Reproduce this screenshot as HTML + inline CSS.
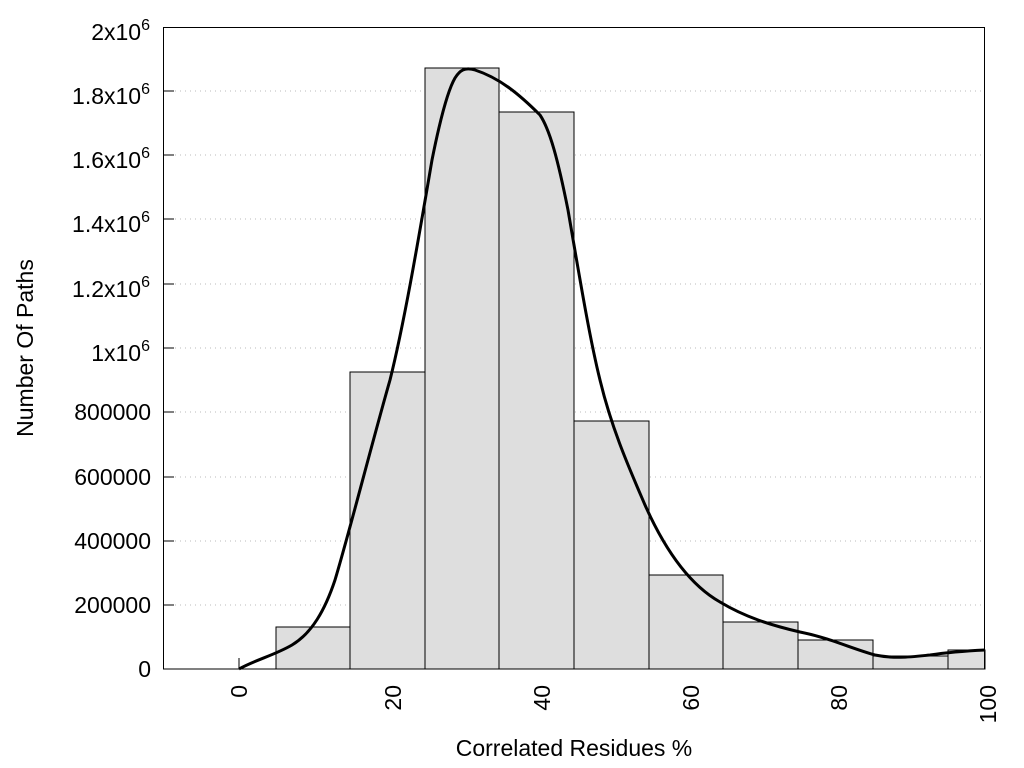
<!DOCTYPE html>
<html><head><meta charset="utf-8"><style>body{margin:0;background:#fff}svg{display:block}text{font-family:"Liberation Sans",sans-serif;font-size:23px;fill:#000}</style></head><body>
<svg width="1024" height="768" xmlns="http://www.w3.org/2000/svg">
<g stroke="#bbb" stroke-width="1" stroke-dasharray="1,4">
<line x1="175" y1="91" x2="985" y2="91"/><line x1="175" y1="155" x2="985" y2="155"/><line x1="175" y1="219" x2="985" y2="219"/><line x1="175" y1="284" x2="985" y2="284"/><line x1="175" y1="348" x2="985" y2="348"/><line x1="175" y1="412" x2="985" y2="412"/><line x1="175" y1="477" x2="985" y2="477"/><line x1="175" y1="541" x2="985" y2="541"/><line x1="175" y1="605" x2="985" y2="605"/>
</g>
<g fill="#dedede" stroke="#000" stroke-width="1">
<rect x="276" y="627" width="74" height="42"/>
<rect x="350" y="372" width="75" height="297"/>
<rect x="425" y="68" width="74" height="601"/>
<rect x="499" y="112" width="75" height="557"/>
<rect x="574" y="421" width="75" height="248"/>
<rect x="649" y="575" width="74" height="94"/>
<rect x="723" y="622" width="75" height="47"/>
<rect x="798" y="640" width="75" height="29"/>
<rect x="873" y="656" width="75" height="13"/>
<rect x="948" y="650" width="37" height="19"/>
</g>
<rect x="163.5" y="27.5" width="821" height="641.5" fill="none" stroke="#000" stroke-width="1"/>
<g stroke="#000" stroke-width="1">
<line x1="163" y1="91" x2="174" y2="91"/><line x1="163" y1="155" x2="174" y2="155"/><line x1="163" y1="219" x2="174" y2="219"/><line x1="163" y1="284" x2="174" y2="284"/><line x1="163" y1="348" x2="174" y2="348"/><line x1="163" y1="412" x2="174" y2="412"/><line x1="163" y1="477" x2="174" y2="477"/><line x1="163" y1="541" x2="174" y2="541"/><line x1="163" y1="605" x2="174" y2="605"/>
<line x1="239" y1="658" x2="239" y2="669"/>
</g>
<path d="M239,669 C255,660 275,655 292,645 C312,633 325,610 335,580 C350,530 370,450 390,380 C405,320 420,230 432,160 C440,120 448,90 455,78 C460,70 465,67 475,70 C500,78 520,95 540,115 C550,130 558,160 568,210 C580,280 590,340 600,380 C612,430 630,470 645,505 C665,550 690,585 720,602 C745,617 770,625 800,632 C830,638 850,648 875,655 C895,659 910,657 930,655 C950,652 965,651 985,650" fill="none" stroke="#000" stroke-width="3"/>
<g text-anchor="end">
<text x="150" y="40">2x10<tspan dy="-10" font-size="16">6</tspan></text>
<text x="150" y="104">1.8x10<tspan dy="-10" font-size="16">6</tspan></text>
<text x="150" y="168">1.6x10<tspan dy="-10" font-size="16">6</tspan></text>
<text x="150" y="232">1.4x10<tspan dy="-10" font-size="16">6</tspan></text>
<text x="150" y="297">1.2x10<tspan dy="-10" font-size="16">6</tspan></text>
<text x="150" y="361">1x10<tspan dy="-10" font-size="16">6</tspan></text>
<text x="151" y="420">800000</text>
<text x="151" y="485">600000</text>
<text x="151" y="549">400000</text>
<text x="151" y="613">200000</text>
<text x="151" y="677">0</text>
</g>
<g text-anchor="end">
<text transform="translate(247,685) rotate(-90)">0</text>
<text transform="translate(401,685) rotate(-90)">20</text>
<text transform="translate(550,685) rotate(-90)">40</text>
<text transform="translate(699,685) rotate(-90)">60</text>
<text transform="translate(847,685) rotate(-90)">80</text>
<text transform="translate(996,685) rotate(-90)">100</text>
</g>
<text x="574" y="756" text-anchor="middle">Correlated Residues %</text>
<text transform="translate(33,348) rotate(-90)" text-anchor="middle">Number Of Paths</text>
</svg>
</body></html>
